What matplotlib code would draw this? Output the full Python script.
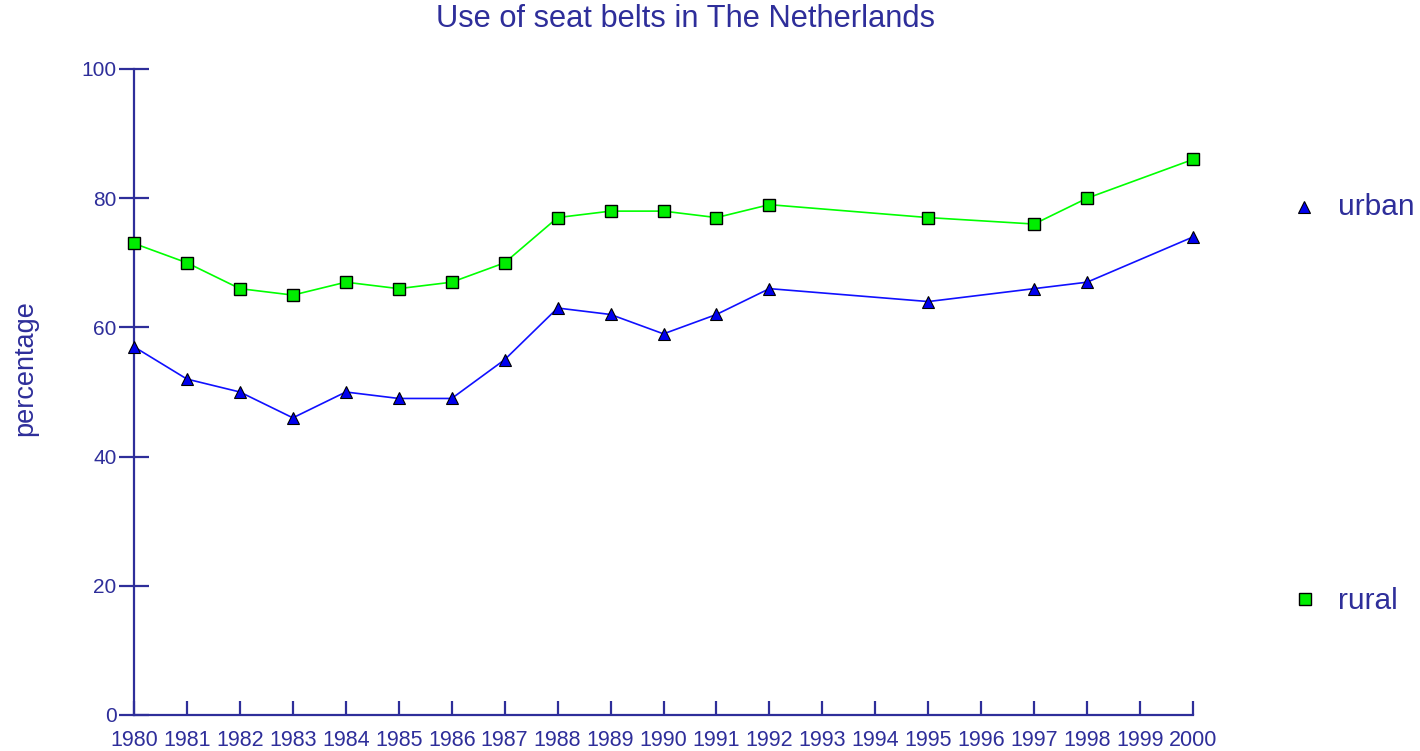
import matplotlib
matplotlib.use("Agg")
import matplotlib.pyplot as plt
from matplotlib.lines import Line2D

plt.rcParams['font.family'] = ['Liberation Sans', 'DejaVu Sans']

years = [1980, 1981, 1982, 1983, 1984, 1985, 1986, 1987, 1988, 1989, 1990,
         1991, 1992, 1995, 1997, 1998, 2000]
urban = [57, 52, 50, 46, 50, 49, 49, 55, 63, 62, 59, 62, 66, 64, 66, 67, 74]
rural = [73, 70, 66, 65, 67, 66, 67, 70, 77, 78, 78, 77, 79, 77, 76, 80, 86]
xticks = list(range(1980, 2001))
yticks = [0, 20, 40, 60, 80, 100]

navy = '#2e2e9a'
W, H = 1420, 751
fig = plt.figure(figsize=(W / 100, H / 100), dpi=100)
ax = fig.add_axes([134 / W, (H - 715) / H, (1193 - 134) / W, (715 - 69) / H])

ax.plot(years, rural, color='#00ff00', lw=1.2, marker='s', ms=9,
        mfc='#00ee00', mec='black', mew=1.0, clip_on=False, zorder=3)
ax.plot(years, urban, color='#1010ff', lw=1.2, marker='^', ms=8,
        mfc='#0000ee', mec='black', mew=0.8, clip_on=False, zorder=3)

ax.set_xlim(1980, 2000)
ax.set_ylim(0, 100)
for s in ['top', 'right']:
    ax.spines[s].set_visible(False)
for s in ['left', 'bottom']:
    ax.spines[s].set_color(navy)
    ax.spines[s].set_linewidth(1.6)

ax.set_xticks(xticks)
ax.set_xticklabels([str(y) for y in xticks])
ax.set_yticks(yticks)
ax.tick_params(axis='x', direction='in', length=10, width=1.6, color=navy,
               labelcolor=navy, labelsize=15.5, pad=10.5)
ax.tick_params(axis='y', direction='inout', length=22, width=1.6, color=navy,
               labelcolor=navy, labelsize=15, pad=1.5)

fig.text(685 / W, 1 - 19 / H, 'Use of seat belts in The Netherlands',
         ha='center', va='center', fontsize=22.2, color=navy)
fig.text(25 / W, 1 - 368 / H, 'percentage', rotation=90, ha='center',
         va='center', fontsize=19.5, color=navy)

# legend
fig.add_artist(Line2D([1304 / W], [1 - 207 / H], marker='^', ms=8,
                      mfc='#0000ee', mec='black', mew=0.8, ls='none',
                      transform=fig.transFigure))
fig.text(1338 / W, 1 - 207 / H, 'urban', ha='left', va='center',
         fontsize=21.5, color=navy)
fig.add_artist(Line2D([1305 / W], [1 - 599 / H], marker='s', ms=9,
                      mfc='#00ee00', mec='black', mew=1.0, ls='none',
                      transform=fig.transFigure))
fig.text(1338 / W, 1 - 601 / H, 'rural', ha='left', va='center',
         fontsize=21.5, color=navy)

fig.savefig('out.png', dpi=100)
